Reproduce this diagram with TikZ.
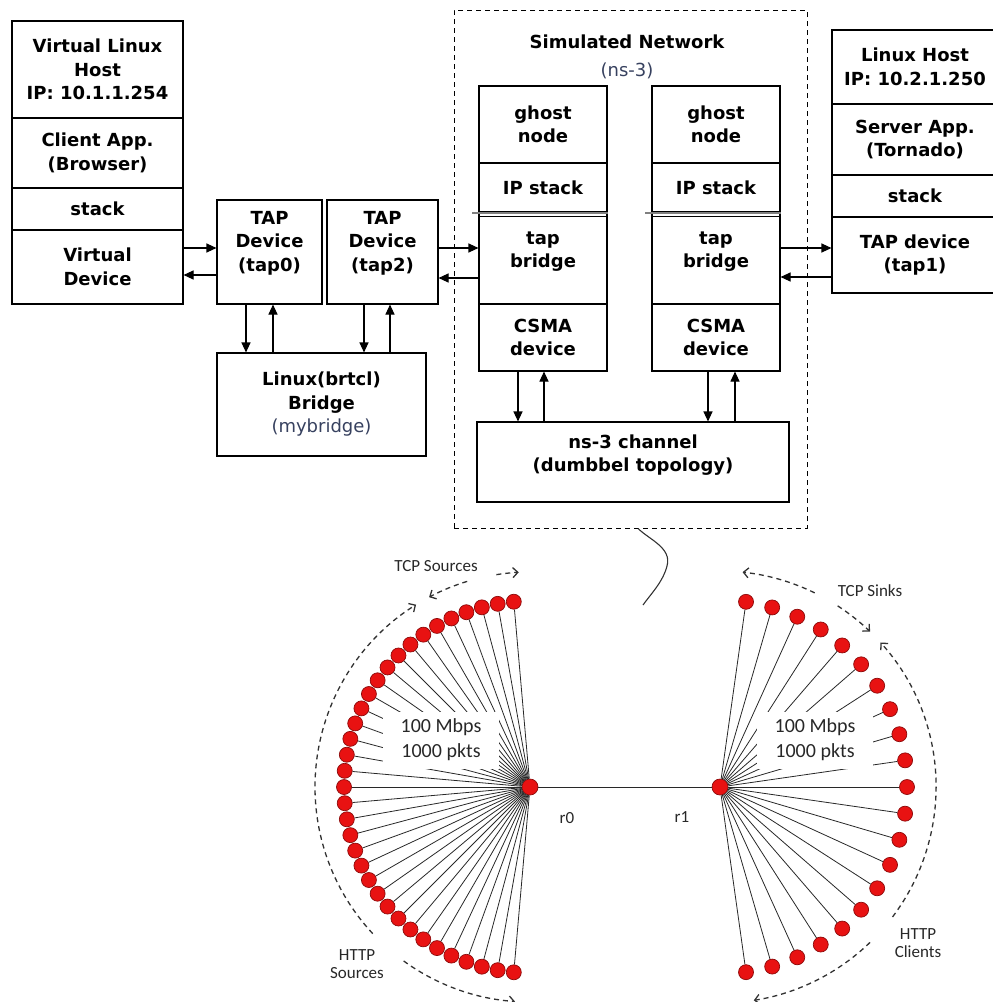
\documentclass[tikz,border=0pt]{standalone}
\usepackage{fontspec}
\setmainfont{DejaVu Sans}
\newfontfamily\calfont{Carlito}
\usetikzlibrary{arrows.meta,calc}
\definecolor{nsblue}{RGB}{55,65,95}
\definecolor{hostred}{RGB}{232,18,18}
\definecolor{hostrim}{RGB}{140,10,10}
\definecolor{fangray}{RGB}{40,40,40}
\definecolor{arcgray}{RGB}{50,50,50}
\newcommand{\boxfont}{\fontsize{18}{23.5}\selectfont\bfseries}
\newcommand{\fanfont}{\calfont\fontsize{17}{18.5}\selectfont}
\newcommand{\ratefont}{\calfont\fontsize{20}{25}\selectfont}
\tikzset{
  layer/.style={draw, line width=1.1pt, inner sep=0pt, align=center, font=\boxfont},
  boxtext/.style={inner sep=0pt, align=center, font=\boxfont},
  arr/.style={line width=1.1pt, -{Triangle[length=10pt,width=9pt]}},
  fannode/.style={circle, draw=hostrim, fill=hostred, line width=0.7pt, minimum size=15pt, inner sep=0pt},
  fanline/.style={fangray, line width=0.8pt},
  rate/.style={fill=white, inner sep=0pt, minimum width=116pt, minimum height=57pt, align=center, font=\ratefont, text=fangray},
  fanlabel/.style={inner sep=0pt, align=center, font=\fanfont, text=fangray},
  dasharc/.style={arcgray, line width=1.3pt, dash pattern=on 5pt off 4pt, -{Straight Barb[length=5pt,width=10pt]}}
}
\begin{document}
\begin{tikzpicture}[x=1pt,y=1pt]
\useasboundingbox (0,0) rectangle (993,-1002);
% virtual linux host
\node[layer, minimum width=171pt, minimum height=97pt] (hostA) at (97.5,-69.5) {Virtual Linux\\Host\\IP: 10.1.1.254};
\node[layer, minimum width=171pt, minimum height=70pt] (hostB) at (97.5,-153) {Client App.\\(Browser)};
\node[layer, minimum width=171pt, minimum height=42pt] (hostC) at (97.5,-209) {stack};
\node[layer, minimum width=171pt, minimum height=74pt] (hostD) at (97.5,-267) {Virtual\\Device};
% tap devices and bridge
\node[layer, minimum width=105pt, minimum height=104pt] (tap0) at (269.5,-252) {};
\node[boxtext] (tap0txt) at ([yshift=9pt]tap0.center) {TAP\\Device\\(tap0)};
\node[layer, minimum width=111pt, minimum height=104pt] (tap2) at (382.5,-252) {};
\node[boxtext] (tap2txt) at ([yshift=9pt]tap2.center) {TAP\\Device\\(tap2)};
\node[layer, minimum width=209pt, minimum height=103pt] (bridge) at (321.5,-404.5) {Linux(brtcl)\\Bridge\\{\mdseries\color{nsblue}(mybridge)}};
% simulated network
\node[draw, line width=1pt, dash pattern=on 5pt off 4pt, minimum width=353pt, minimum height=518pt, inner sep=0pt] (simnet) at (630.5,-269) {};
\node[boxtext] (simtitle) at (627,-42) {Simulated Network};
\node[boxtext, font=\fontsize{18}{23.5}\selectfont, text=nsblue] (simsub) at (627,-71) {(ns-3)};
\foreach \n/\x in {1/543,2/716} {
  \node[layer, minimum width=128pt, minimum height=77pt] (ghost\n) at (\x,-124.5) {ghost\\node};
  \node[layer, minimum width=128pt, minimum height=49pt] (ipst\n) at (\x,-187.5) {IP stack};
  \node[layer, minimum width=128pt, minimum height=92pt] (tbr\n) at (\x,-258) {};
  \node[boxtext] (tbrtxt\n) at ([yshift=6.5pt]tbr\n.center) {tap\\bridge};
  \node[layer, minimum width=128pt, minimum height=67pt] (csma\n) at (\x,-337.5) {CSMA\\device};
  \draw[line width=1.1pt] ([yshift=-5pt]tbr\n.north west) -- ([yshift=-5pt]tbr\n.north east);
  \draw[gray, line width=2pt] ([xshift=-6pt]ipst\n.south west) -- (ipst\n.south east);
}
\node[layer, minimum width=312pt, minimum height=80pt] (chan) at (633,-462) {};
\node[boxtext] (chantxt) at ([yshift=7pt]chan.center) {ns-3 channel\\(dumbbel topology)};
% linux host
\node[layer, minimum width=166pt, minimum height=74pt] (lhA) at (915,-67) {Linux Host\\IP: 10.2.1.250};
\node[layer, minimum width=166pt, minimum height=71pt] (lhB) at (915,-139.5) {Server App.\\(Tornado)};
\node[layer, minimum width=166pt, minimum height=42pt] (lhC) at (915,-196) {stack};
\node[layer, minimum width=166pt, minimum height=76pt] (lhD) at (915,-255) {TAP device\\(tap1)};
% arrows
\draw[arr] ([yshift=4pt]tap0.west -| hostD.east) -- ([yshift=4pt]tap0.west);
\draw[arr] ([yshift=-23pt]tap0.west) -- ([yshift=-23pt]tap0.west -| hostD.east);
\draw[arr] ([xshift=-23.5pt]tap0.south) -- ([xshift=-23.5pt]tap0.south |- bridge.north);
\draw[arr] ([xshift=3.5pt]tap0.south |- bridge.north) -- ([xshift=3.5pt]tap0.south);
\draw[arr] ([xshift=-18.5pt]tap2.south) -- ([xshift=-18.5pt]tap2.south |- bridge.north);
\draw[arr] ([xshift=7.5pt]tap2.south |- bridge.north) -- ([xshift=7.5pt]tap2.south);
\draw[arr] ([yshift=4pt]tap2.east) -- ([yshift=4pt]tap2.east -| tbr1.west);
\draw[arr] ([yshift=-26pt]tap2.east -| tbr1.west) -- ([yshift=-26pt]tap2.east);
\draw[arr] ([yshift=7pt]lhD.west -| tbr2.east) -- ([yshift=7pt]lhD.west);
\draw[arr] ([yshift=-22pt]lhD.west) -- ([yshift=-22pt]lhD.west -| tbr2.east);
\draw[arr] ([xshift=-25pt]csma1.south) -- ([xshift=-25pt]csma1.south |- chan.north);
\draw[arr] ([xshift=1pt]csma1.south |- chan.north) -- ([xshift=1pt]csma1.south);
\draw[arr] ([xshift=-8pt]csma2.south) -- ([xshift=-8pt]csma2.south |- chan.north);
\draw[arr] ([xshift=19pt]csma2.south |- chan.north) -- ([xshift=19pt]csma2.south);
% zoom curve
\coordinate (zoomend) at (643,-605);
\draw[line width=1.1pt, arcgray] ([xshift=7.5pt]simnet.south) .. controls (650,-540) and (672,-548) .. (667,-566) .. controls (663,-582) and (650,-595) .. (zoomend);
% dumbbell
\node[fannode, minimum size=16pt] (r0) at (530,-787) {};
\node[fannode, minimum size=16pt] (r1) at (720,-787) {};
\draw[fanline] (r0) -- (r1);
\foreach \i in {0,...,34} {
  \node[fannode] (src\i) at ($(r0)+({95+5*\i}:186)$) {};
  \draw[fanline] (src\i) -- (r0);
}
\foreach \i in {0,...,20} {
  \node[fannode] (snk\i) at ($(r1)+({82-8.2*\i}:187)$) {};
  \draw[fanline] (snk\i) -- (r1);
}
\node[rate] (lrate) at (441,-740) {100 Mbps\\1000 pkts};
\node[rate] (rrate) at (815,-740) {100 Mbps\\1000 pkts};
\node[fanlabel] (r0lbl) at (567,-818) {r0};
\node[fanlabel] (r1lbl) at (682,-817) {r1};
% dashed groups
\draw[dasharc] ($(r0)+(99:215)$) arc[start angle=99, end angle=93, radius=215];
\draw[dasharc] ($(r0)+(107:215)$) arc[start angle=107, end angle=118, radius=215];
\draw[dasharc] ($(r0)+(223:215)$) arc[start angle=223, end angle=122, radius=215];
\draw[dasharc] ($(r0)+(234:215)$) arc[start angle=234, end angle=266, radius=215];
\draw[dasharc] ($(r1)+(64:216)$) arc[start angle=64, end angle=84, radius=216];
\draw[dasharc] ($(r1)+(57:216)$) arc[start angle=57, end angle=46, radius=216];
\draw[dasharc] ($(r1)+(-37:216)$) arc[start angle=-37, end angle=42, radius=216];
\draw[dasharc] ($(r1)+(-46:216)$) arc[start angle=-46, end angle=-81, radius=216];
\node[fanlabel] (tcpsrc) at (436,-566) {TCP Sources};
\node[fanlabel] (httpsrc) at (357,-964) {HTTP\\Sources};
\node[fanlabel] (tcpsnk) at (870,-591) {TCP Sinks};
\node[fanlabel] (httpcli) at (918,-943) {HTTP\\Clients};
\end{tikzpicture}
\end{document}
